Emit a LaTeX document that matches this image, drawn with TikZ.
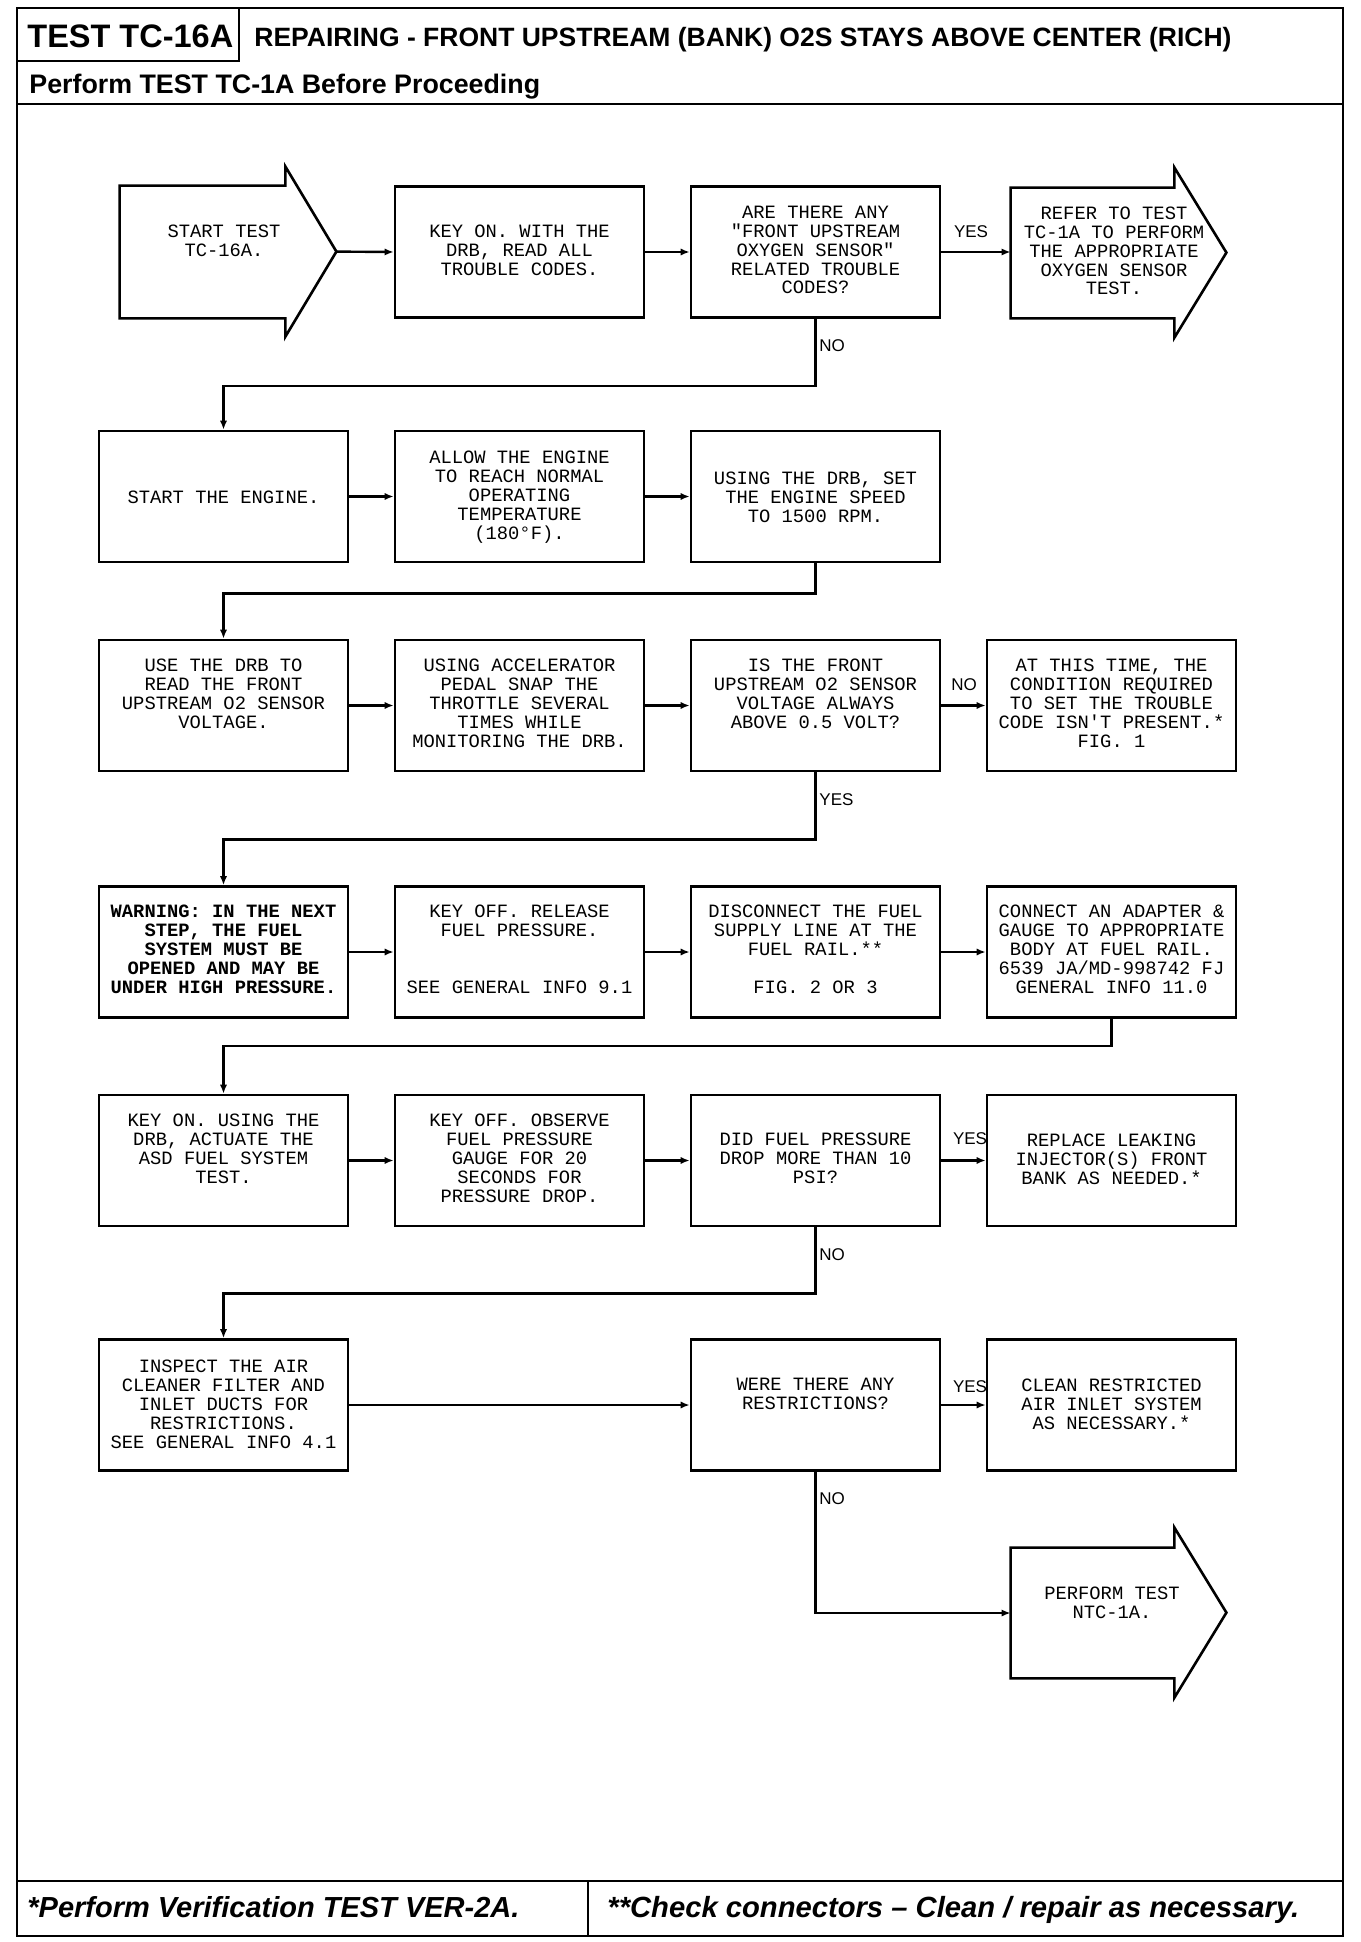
\documentclass[tikz,border=0pt]{standalone}
\usepackage{fontspec}
\setmainfont{Liberation Sans}
\newfontfamily\plotfont{Liberation Mono}
\usetikzlibrary{arrows.meta}
\begin{document}
\begin{tikzpicture}[x=0.5pt,y=-0.5pt,
  framel/.style={line width=1.4pt},
  box/.style={draw, line width=1.3pt, minimum width=124.5pt, minimum height=65.5pt, inner sep=0pt},
  abody/.style={draw=none, minimum width=81.5pt, minimum height=65pt, inner sep=0pt},
  aline/.style={line width=1.3pt, line join=miter},
  txt/.style={font=\fontsize{9.4}{9.45}\selectfont\plotfont, align=center, inner sep=0pt},
  btxt/.style={font=\fontsize{9.4}{9.45}\selectfont\plotfont\bfseries, align=center, inner sep=0pt},
  lbl/.style={font=\fontsize{8.5}{9}\selectfont, inner sep=0pt},
  arr/.style={line width=1.2pt, -{Latex[length=4.5pt,width=3.6pt]}},
  hd/.style={anchor=base west, inner sep=0pt}]
\useasboundingbox (0,0) rectangle (1360,1942);
\fill[white] (0,0) rectangle (1360,1942);

% frame
\draw[framel] (17,8) rectangle (1343,1936);
\draw[framel] (17,8) rectangle (239,61);
\draw[framel] (17,104) -- (1343,104);
\draw[framel] (17,1881) -- (1343,1881);
\draw[framel] (588,1881) -- (588,1936);
\node[hd, font=\fontsize{16.25}{18}\selectfont\bfseries] (hdr) at (27,48) {TEST TC-16A};
\node[hd, font=\fontsize{13.25}{15}\selectfont\bfseries] (ttl) at (254,47) {REPAIRING - FRONT UPSTREAM (BANK) O2S STAYS ABOVE CENTER (RICH)};
\node[hd, font=\fontsize{13.4}{15}\selectfont\bfseries] (sub) at (29,94) {Perform TEST TC-1A Before Proceeding};
\node[hd, font=\fontsize{14.5}{16}\selectfont\bfseries\itshape] (ft1) at (27,1917) {*Perform Verification TEST VER-2A.};
\node[hd, font=\fontsize{14.6}{16}\selectfont\bfseries\itshape] (ft2) at (607,1917) {**Check connectors – Clean / repair as necessary.};

% row 1
\node[abody, minimum width=82.5pt, minimum height=66pt] (start) at (202.5,252) {};
\draw[aline] (start.north west) -- (start.north east) -- ++(0,-19) -- ++(51,85) coordinate (starttip) -- ++(-51,85) -- (start.south east) -- (start.south west) -- cycle;
\node[txt] (tstart) at (224,241) {START TEST\\TC-16A.};
\node[box] (b12) at (519.5,252) {};
\node[txt] (t12) at (519.5,250) {KEY ON. WITH THE\\DRB, READ ALL\\TROUBLE CODES.};
\node[box] (b13) at (815.5,252) {};
\node[txt] (t13) at (815.5,250) {ARE THERE ANY\\"FRONT UPSTREAM\\OXYGEN SENSOR"\\RELATED TROUBLE\\CODES?};
\node[abody] (refer) at (1092.5,253) {};
\draw[aline] (refer.north west) -- (refer.north east) -- ++(0,-20) -- ++(52,85) coordinate (refertip) -- ++(-52,85) -- (refer.south east) -- (refer.south west) -- cycle;
\node[txt] (trefer) at (1114,251) {REFER TO TEST\\TC-1A TO PERFORM\\THE APPROPRIATE\\OXYGEN SENSOR\\TEST.};

% row 2
\node[box] (b21) at (223.5,496.5) {};
\node[txt] (t21) at (223.5,497) {START THE ENGINE.};
\node[box] (b22) at (519.5,496.5) {};
\node[txt] (t22) at (519.5,497) {ALLOW THE ENGINE\\TO REACH NORMAL\\OPERATING\\TEMPERATURE\\(180°F).};
\node[box] (b23) at (815.5,496.5) {};
\node[txt] (t23) at (815.5,497) {USING THE DRB, SET\\THE ENGINE SPEED\\TO 1500 RPM.};

% row 3
\node[box] (b31) at (223.5,705.5) {};
\node[txt] (t31) at (223.5,694) {USE THE DRB TO\\READ THE FRONT\\UPSTREAM O2 SENSOR\\VOLTAGE.};
\node[box] (b32) at (519.5,705.5) {};
\node[txt] (t32) at (519.5,703.5) {USING ACCELERATOR\\PEDAL SNAP THE\\THROTTLE SEVERAL\\TIMES WHILE\\MONITORING THE DRB.};
\node[box] (b33) at (815.5,705.5) {};
\node[txt] (t33) at (815.5,694) {IS THE FRONT\\UPSTREAM O2 SENSOR\\VOLTAGE ALWAYS\\ABOVE 0.5 VOLT?};
\node[box] (b34) at (1111.5,705.5) {};
\node[txt] (t34) at (1111.5,703.5) {AT THIS TIME, THE\\CONDITION REQUIRED\\TO SET THE TROUBLE\\CODE ISN'T PRESENT.*\\FIG. 1};

% row 4
\node[box] (b41) at (223.5,952) {};
\node[btxt] (t41) at (223.5,949) {WARNING: IN THE NEXT\\STEP, THE FUEL\\SYSTEM MUST BE\\OPENED AND MAY BE\\UNDER HIGH PRESSURE.};
\node[box] (b42) at (519.5,952) {};
\node[txt] (t42) at (519.5,949) {KEY OFF. RELEASE\\FUEL PRESSURE.\\\strut\\\strut\\SEE GENERAL INFO 9.1};
\node[box] (b43) at (815.5,952) {};
\node[txt] (t43) at (815.5,949) {DISCONNECT THE FUEL\\SUPPLY LINE AT THE\\FUEL RAIL.**\\\strut\\FIG. 2 OR 3};
\node[box] (b44) at (1111.5,952) {};
\node[txt] (t44) at (1111.5,949) {CONNECT AN ADAPTER \&\\GAUGE TO APPROPRIATE\\BODY AT FUEL RAIL.\\6539 JA/MD-998742 FJ\\GENERAL INFO 11.0};

% row 5
\node[box] (b51) at (223.5,1160.5) {};
\node[txt] (t51) at (223.5,1149) {KEY ON. USING THE\\DRB, ACTUATE THE\\ASD FUEL SYSTEM\\TEST.};
\node[box] (b52) at (519.5,1160.5) {};
\node[txt] (t52) at (519.5,1158) {KEY OFF. OBSERVE\\FUEL PRESSURE\\GAUGE FOR 20\\SECONDS FOR\\PRESSURE DROP.};
\node[box] (b53) at (815.5,1160.5) {};
\node[txt] (t53) at (815.5,1158) {DID FUEL PRESSURE\\DROP MORE THAN 10\\PSI?};
\node[box] (b54) at (1111.5,1160.5) {};
\node[txt] (t54) at (1111.5,1159) {REPLACE LEAKING\\INJECTOR(S) FRONT\\BANK AS NEEDED.*};

% row 6
\node[box] (b61) at (223.5,1405) {};
\node[txt] (t61) at (223.5,1404) {INSPECT THE AIR\\CLEANER FILTER AND\\INLET DUCTS FOR\\RESTRICTIONS.\\SEE GENERAL INFO 4.1};
\node[box] (b63) at (815.5,1405) {};
\node[txt] (t63) at (815.5,1394) {WERE THERE ANY\\RESTRICTIONS?};
\node[box] (b64) at (1111.5,1405) {};
\node[txt] (t64) at (1111.5,1404) {CLEAN RESTRICTED\\AIR INLET SYSTEM\\AS NECESSARY.*};

% perform arrow
\node[abody] (perform) at (1092.5,1613) {};
\draw[aline] (perform.north west) -- (perform.north east) -- ++(0,-20) -- ++(52,85) coordinate (performtip) -- ++(-52,85) -- (perform.south east) -- (perform.south west) -- cycle;
\node[txt] (tperform) at (1112,1603) {PERFORM TEST\\NTC-1A.};

% connectors
\draw[arr] (starttip) -- (b12.west);
\draw[arr] (b12.east) -- (b13.west);
\draw[arr] (b13.east) -- (b13.east -| refer.west);
\draw[arr] (b13.south) -- ++(0,67) -| (b21.north);
\draw[arr] (b21.east) -- (b22.west);
\draw[arr] (b22.east) -- (b23.west);
\draw[arr] (b23.south) -- ++(0,30) -| (b31.north);
\draw[arr] (b31.east) -- (b32.west);
\draw[arr] (b32.east) -- (b33.west);
\draw[arr] (b33.east) -- (b34.west);
\draw[arr] (b33.south) -- ++(0,67) -| (b41.north);
\draw[arr] (b41.east) -- (b42.west);
\draw[arr] (b42.east) -- (b43.west);
\draw[arr] (b43.east) -- (b44.west);
\draw[arr] (b44.south) -- ++(0,27) -| (b51.north);
\draw[arr] (b51.east) -- (b52.west);
\draw[arr] (b52.east) -- (b53.west);
\draw[arr] (b53.east) -- (b54.west);
\draw[arr] (b53.south) -- ++(0,66) -| (b61.north);
\draw[arr] (b61.east) -- (b63.west);
\draw[arr] (b63.east) -- (b64.west);
\draw[arr] (b63.south) |- (perform.west);

% labels
\node[lbl] (l1) at (971,232) {YES};
\node[lbl, anchor=west] (l2) at (819,346) {NO};
\node[lbl] (l3) at (964,685) {NO};
\node[lbl, anchor=west] (l4) at (819,800) {YES};
\node[lbl] (l5) at (970,1139) {YES};
\node[lbl, anchor=west] (l6) at (819,1255) {NO};
\node[lbl] (l7) at (970,1387) {YES};
\node[lbl, anchor=west] (l8) at (819,1499) {NO};
\end{tikzpicture}
\end{document}
